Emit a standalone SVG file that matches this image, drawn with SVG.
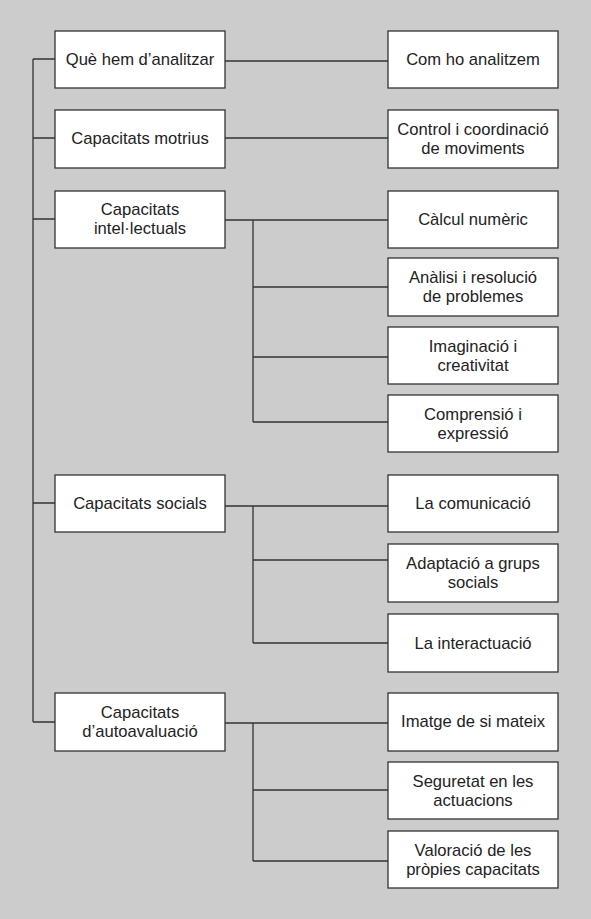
<svg xmlns="http://www.w3.org/2000/svg" width="591" height="919" viewBox="0 0 591 919">
<style>
.bg{fill:#cccccc}
.box{fill:#ffffff;stroke:#333333;stroke-width:1.3}
.c{fill:none;stroke:#333333;stroke-width:1.3}
text{font-family:"Liberation Sans",Arial,Helvetica,sans-serif;font-size:16.6px;fill:#222222;text-anchor:middle}
</style>
<rect class="bg" x="0" y="0" width="591" height="919"/>
<g id="connectors">
<path class="c" d="M33 59V722"/>
<path class="c" d="M33 59H55M33 138H55M33 219H55M33 503H55M33 722H55"/>
<path class="c" d="M225 61H388M225 138H388"/>
<path class="c" d="M225 220H388M253 220V422M253 287H388M253 357H388M253 422H388"/>
<path class="c" d="M225 506H388M253 506V643M253 560H388M253 643H388"/>
<path class="c" d="M225 723H388M253 723V861M253 790H388M253 861H388"/>
</g>
<g id="n1"><rect class="box" x="55" y="31" width="170" height="57"/><text x="140" y="65">Què hem d’analitzar</text></g>
<g id="n2"><rect class="box" x="55" y="110" width="170" height="58"/><text x="140" y="144">Capacitats motrius</text></g>
<g id="n3"><rect class="box" x="55" y="191" width="170" height="57"/><text x="140" y="215">Capacitats</text><text x="140" y="234">intel·lectuals</text></g>
<g id="n4"><rect class="box" x="55" y="475" width="170" height="57"/><text x="140" y="509">Capacitats socials</text></g>
<g id="n5"><rect class="box" x="55" y="693" width="170" height="58"/><text x="140" y="718">Capacitats</text><text x="140" y="737">d’autoavaluació</text></g>
<g id="r1"><rect class="box" x="388" y="31" width="170" height="57"/><text x="473" y="65">Com ho analitzem</text></g>
<g id="r2"><rect class="box" x="388" y="110" width="170" height="58"/><text x="473" y="135">Control i coordinació</text><text x="473" y="154">de moviments</text></g>
<g id="r3"><rect class="box" x="388" y="191" width="170" height="57"/><text x="473" y="225">Càlcul numèric</text></g>
<g id="r4"><rect class="box" x="388" y="258" width="170" height="58"/><text x="473" y="283">Anàlisi i resolució</text><text x="473" y="302">de problemes</text></g>
<g id="r5"><rect class="box" x="388" y="327" width="170" height="57"/><text x="473" y="352">Imaginació i</text><text x="473" y="371">creativitat</text></g>
<g id="r6"><rect class="box" x="388" y="395" width="170" height="57"/><text x="473" y="420">Comprensió i</text><text x="473" y="439">expressió</text></g>
<g id="r7"><rect class="box" x="388" y="475" width="170" height="57"/><text x="473" y="509">La comunicació</text></g>
<g id="r8"><rect class="box" x="388" y="544" width="170" height="58"/><text x="473" y="569">Adaptació a grups</text><text x="473" y="588">socials</text></g>
<g id="r9"><rect class="box" x="388" y="614" width="170" height="58"/><text x="473" y="649">La interactuació</text></g>
<g id="r10"><rect class="box" x="388" y="693" width="170" height="58"/><text x="473" y="727">Imatge de si mateix</text></g>
<g id="r11"><rect class="box" x="388" y="762" width="170" height="57"/><text x="473" y="787">Seguretat en les</text><text x="473" y="806">actuacions</text></g>
<g id="r12"><rect class="box" x="388" y="831" width="170" height="57"/><text x="473" y="856">Valoració de les</text><text x="473" y="875">pròpies capacitats</text></g>
</svg>
